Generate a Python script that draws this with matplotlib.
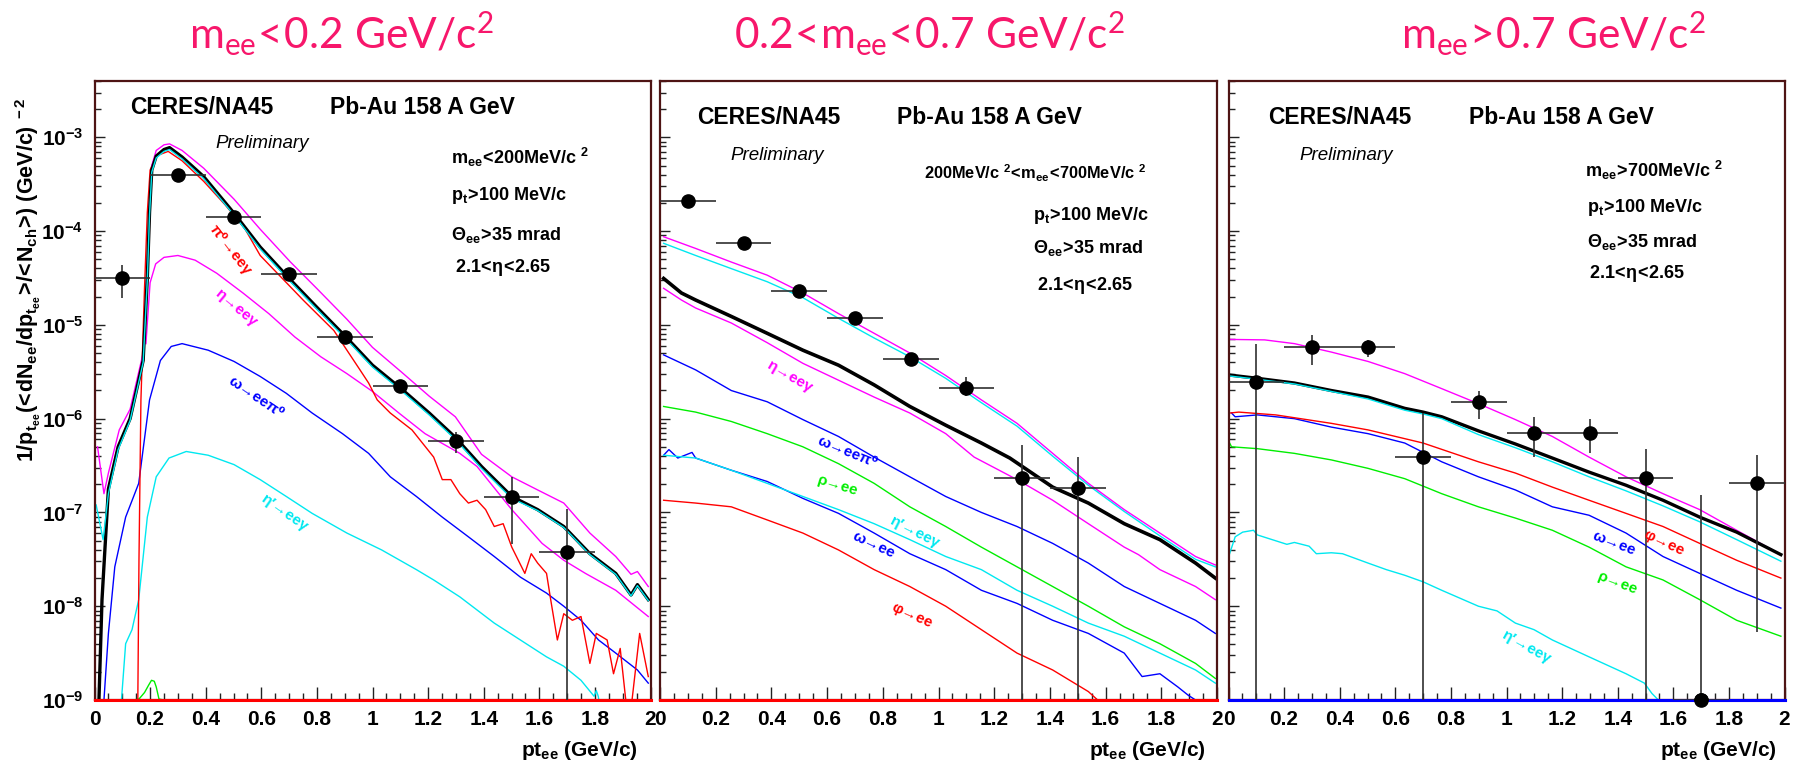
import numpy as np
import matplotlib
matplotlib.use('Agg')
import matplotlib.pyplot as plt
from matplotlib.ticker import FixedLocator, NullFormatter, LogLocator

W, H = 1798, 766
plt.rcParams['mathtext.fontset'] = 'custom'
plt.rcParams['mathtext.rm'] = 'Lato'
plt.rcParams['mathtext.bf'] = 'Liberation Sans:bold'
plt.rcParams['mathtext.it'] = 'Liberation Sans:italic'
plt.rcParams['font.family'] = ['Liberation Sans', 'DejaVu Sans']

# ---------------- data (log10 of the yield) ----------------
# Left panel  m_ee < 0.2 GeV/c^2
L_tot_x = [0.016, 0.027, 0.05, 0.085, 0.128, 0.175, 0.19, 0.198, 0.206, 0.222, 0.25, 0.27, 0.315, 0.393, 0.502, 0.596, 0.705, 0.799, 0.908, 1.0, 1.103, 1.204, 1.298, 1.392, 1.501, 1.594, 1.688, 1.782, 1.875, 1.93, 1.953, 1.992]
L_tot_y = [-9.0, -7.93, -6.75, -6.3, -6.0, -5.38, -4.5, -3.8, -3.35, -3.2, -3.13, -3.11, -3.21, -3.42, -3.81, -4.17, -4.52, -4.81, -5.14, -5.43, -5.68, -5.94, -6.2, -6.51, -6.83, -6.97, -7.15, -7.44, -7.65, -7.88, -7.77, -7.93]
L_cyt_x = [0.006, 0.031, 0.05, 0.085, 0.128, 0.175, 0.19, 0.198, 0.206, 0.222, 0.25, 0.27, 0.315, 0.393, 0.502, 0.596, 0.705, 0.799, 0.908, 1.0, 1.103, 1.204, 1.298, 1.392, 1.501, 1.594, 1.688, 1.782, 1.875, 1.93, 1.953, 1.992]
L_cyt_y = [-6.92, -7.29, -6.8, -6.33, -6.02, -5.40, -4.52, -3.82, -3.37, -3.22, -3.15, -3.13, -3.23, -3.44, -3.83, -4.19, -4.54, -4.83, -5.16, -5.45, -5.70, -5.96, -6.22, -6.53, -6.85, -6.98, -7.16, -7.45, -7.66, -7.89, -7.78, -7.94]
L_mup_x = [0.011, 0.034, 0.05, 0.089, 0.128, 0.175, 0.19, 0.198, 0.206, 0.222, 0.25, 0.27, 0.315, 0.393, 0.502, 0.596, 0.705, 0.799, 0.908, 1.0, 1.103, 1.204, 1.298, 1.392, 1.501, 1.594, 1.688, 1.782, 1.875, 1.93, 1.953, 1.992]
L_mup_y = [-6.30, -6.80, -6.58, -6.12, -5.90, -5.30, -4.35, -3.7, -3.3, -3.14, -3.08, -3.07, -3.14, -3.33, -3.66, -3.98, -4.33, -4.61, -4.94, -5.24, -5.50, -5.76, -5.98, -6.38, -6.62, -6.76, -6.90, -7.22, -7.47, -7.66, -7.63, -7.79]
L_pi0_x = [0.155, 0.16, 0.167, 0.18, 0.19, 0.2, 0.22, 0.265, 0.315, 0.393, 0.47, 0.54, 0.596, 0.752, 0.861, 0.908, 0.955, 0.986, 1.017, 1.064, 1.142, 1.22, 1.251, 1.282, 1.314, 1.345, 1.376, 1.407, 1.438, 1.47, 1.501, 1.548, 1.571, 1.594, 1.626, 1.641, 1.665, 1.688, 1.719, 1.75, 1.782, 1.805, 1.844, 1.867, 1.891, 1.922, 1.961, 1.992]
L_pi0_y = [-9.3, -7.5, -5.8, -4.6, -3.8, -3.35, -3.2, -3.15, -3.25, -3.47, -3.72, -3.97, -4.26, -4.74, -5.06, -5.27, -5.48, -5.62, -5.80, -5.94, -6.12, -6.41, -6.65, -6.65, -6.80, -6.90, -6.87, -6.97, -7.15, -7.12, -7.37, -7.65, -7.44, -7.54, -7.65, -7.93, -8.36, -8.08, -8.15, -8.11, -8.61, -8.29, -8.36, -8.72, -8.45, -9.3, -8.29, -8.75]
L_eta_x = [0.185, 0.2, 0.22, 0.25, 0.3, 0.362, 0.44, 0.534, 0.627, 0.721, 0.814, 0.908, 1.0, 1.095, 1.189, 1.314, 1.376, 1.501, 1.61, 1.688, 1.766, 1.875, 1.992]
L_eta_y = [-5.2, -4.55, -4.35, -4.28, -4.26, -4.31, -4.45, -4.66, -4.88, -5.13, -5.34, -5.52, -5.71, -5.94, -6.16, -6.37, -6.51, -6.97, -7.33, -7.51, -7.65, -7.83, -8.11]
L_omp_x = [0.034, 0.05, 0.073, 0.112, 0.159, 0.198, 0.237, 0.276, 0.315, 0.409, 0.502, 0.596, 0.690, 0.783, 0.892, 0.986, 1.064, 1.158, 1.251, 1.345, 1.438, 1.532, 1.626, 1.688, 1.75, 1.813, 1.875, 1.953, 1.992]
L_omp_y = [-9.0, -8.29, -7.58, -7.05, -6.69, -5.80, -5.38, -5.23, -5.20, -5.27, -5.39, -5.55, -5.73, -5.94, -6.16, -6.37, -6.62, -6.83, -7.05, -7.26, -7.47, -7.69, -7.86, -8.0, -8.15, -8.36, -8.5, -8.68, -8.82]
L_etp_x = [0.097, 0.112, 0.135, 0.159, 0.19, 0.222, 0.268, 0.33, 0.409, 0.502, 0.596, 0.69, 0.783, 0.908, 1.033, 1.158, 1.22, 1.314, 1.438, 1.532, 1.626, 1.688, 1.75, 1.797, 1.805, 1.812, 1.82]
L_etp_y = [-9.0, -8.40, -8.25, -7.93, -7.05, -6.62, -6.42, -6.35, -6.39, -6.49, -6.65, -6.83, -7.01, -7.22, -7.40, -7.61, -7.72, -7.90, -8.18, -8.36, -8.54, -8.64, -8.79, -8.96, -8.9, -8.96, -9.1]
L_rho_x = [0.14, 0.16, 0.18, 0.195, 0.205, 0.215, 0.222, 0.232, 0.25]
L_rho_y = [-9.0, -8.99, -8.92, -8.84, -8.79, -8.80, -8.86, -8.99, -9.0]

L_pt = [0.1, 0.3, 0.5, 0.7, 0.9, 1.1, 1.3, 1.5, 1.7]
L_val = [-4.504, -3.403, -3.847, -4.462, -5.127, -5.652, -6.235, -6.839, -7.419]
L_lo = [-4.71, -3.43, -3.88, -4.50, -5.17, -5.70, -6.37, -7.34, -10.0]
L_hi = [-4.36, -3.38, -3.81, -4.43, -5.09, -5.61, -6.14, -6.62, -6.967]

# Middle panel  0.2 < m_ee < 0.7 GeV/c^2
M_x17 = [0.013, 0.128, 0.256, 0.385, 0.513, 0.641, 0.769, 0.897, 1.026, 1.154, 1.282, 1.41, 1.538, 1.667, 1.795, 1.923, 1.994]
M_mup_y = [-4.06, -4.185, -4.33, -4.47, -4.66, -4.88, -5.09, -5.30, -5.54, -5.80, -6.05, -6.37, -6.69, -6.97, -7.22, -7.47, -7.56]
M_cup_y = [-4.13, -4.26, -4.40, -4.54, -4.71, -4.93, -5.14, -5.34, -5.57, -5.83, -6.08, -6.40, -6.71, -6.99, -7.25, -7.50, -7.58]
M_tot_x = [0.013, 0.077, 0.128, 0.256, 0.385, 0.513, 0.641, 0.769, 0.897, 1.026, 1.154, 1.256, 1.41, 1.538, 1.667, 1.795, 1.923, 1.994]
M_tot_y = [-4.505, -4.66, -4.735, -4.91, -5.09, -5.27, -5.43, -5.64, -5.87, -6.07, -6.26, -6.42, -6.73, -6.90, -7.12, -7.29, -7.54, -7.70]
M_eta_x = [0.013, 0.077, 0.128, 0.256, 0.385, 0.513, 0.641, 0.769, 0.897, 1.026, 1.128, 1.282, 1.41, 1.538, 1.667, 1.718, 1.795, 1.923, 1.994]
M_eta_y = [-4.61, -4.735, -4.82, -4.98, -5.19, -5.41, -5.59, -5.77, -5.94, -6.16, -6.41, -6.65, -6.87, -7.12, -7.37, -7.45, -7.61, -7.79, -7.93]
M_omp_y = [-5.32, -5.48, -5.70, -5.82, -6.01, -6.19, -6.41, -6.62, -6.83, -7.0, -7.15, -7.33, -7.54, -7.79, -7.97, -8.15, -8.29]
M_rho_y = [-5.87, -5.93, -6.03, -6.16, -6.30, -6.48, -6.69, -6.94, -7.15, -7.37, -7.58, -7.79, -8.0, -8.22, -8.40, -8.61, -8.77]
M_etp_y = [-6.39, -6.42, -6.55, -6.69, -6.83, -6.97, -7.12, -7.29, -7.47, -7.61, -7.83, -8.0, -8.18, -8.32, -8.50, -8.68, -8.82]
M_om_x = [0.013, 0.032, 0.064, 0.115, 0.128, 0.256, 0.385, 0.513, 0.641, 0.769, 0.897, 1.026, 1.154, 1.282, 1.41, 1.538, 1.667, 1.731, 1.795, 1.859, 1.897, 1.923, 1.95]
M_om_y = [-6.39, -6.33, -6.42, -6.36, -6.42, -6.55, -6.67, -6.85, -7.01, -7.22, -7.44, -7.61, -7.83, -7.97, -8.15, -8.29, -8.50, -8.75, -8.72, -8.86, -8.95, -9.0, -9.1]
M_phi_x = [0.013, 0.128, 0.256, 0.385, 0.513, 0.641, 0.769, 0.897, 1.026, 1.154, 1.282, 1.41, 1.538, 1.59]
M_phi_y = [-6.87, -6.90, -6.94, -7.08, -7.22, -7.40, -7.61, -7.79, -8.0, -8.25, -8.50, -8.68, -8.91, -9.05]

M_pt = [0.1, 0.3, 0.5, 0.7, 0.9, 1.1, 1.3, 1.5]
M_val = [-3.677, -4.132, -4.64, -4.924, -5.368, -5.677, -6.637, -6.743]
M_lo = [-3.70, -4.16, -4.69, -4.97, -5.44, -5.76, -10.0, -10.0]
M_hi = [-3.65, -4.11, -4.58, -4.88, -5.30, -5.56, -6.28, -6.41]

# Right panel  m_ee > 0.7 GeV/c^2
R_mup_x = [0.004, 0.13, 0.237, 0.37, 0.502, 0.634, 0.767, 0.899, 1.032, 1.165, 1.297, 1.43, 1.563, 1.695, 1.828, 1.987]
R_mup_y = [-5.155, -5.16, -5.20, -5.29, -5.39, -5.52, -5.68, -5.84, -6.01, -6.19, -6.41, -6.62, -6.80, -6.97, -7.19, -7.45]
R_tot_x = [0.004, 0.104, 0.237, 0.37, 0.502, 0.634, 0.70, 0.767, 0.899, 1.032, 1.165, 1.297, 1.43, 1.563, 1.695, 1.828, 1.987]
R_tot_y = [-5.535, -5.57, -5.62, -5.70, -5.77, -5.89, -5.93, -5.98, -6.13, -6.27, -6.42, -6.57, -6.71, -6.87, -7.05, -7.21, -7.45]
R_cyt_y = [-5.545, -5.58, -5.63, -5.71, -5.79, -5.91, -5.95, -6.00, -6.17, -6.31, -6.46, -6.62, -6.77, -6.93, -7.10, -7.29, -7.52]
R_phi_x = [0.004, 0.037, 0.17, 0.37, 0.502, 0.70, 0.899, 1.032, 1.165, 1.297, 1.43, 1.563, 1.695, 1.828, 1.987]
R_phi_y = [-5.94, -5.93, -5.96, -6.05, -6.12, -6.26, -6.46, -6.58, -6.73, -6.87, -7.01, -7.15, -7.33, -7.51, -7.70]
R_om_x = [0.011, 0.024, 0.104, 0.237, 0.37, 0.502, 0.634, 0.767, 0.899, 1.032, 1.165, 1.297, 1.43, 1.563, 1.695, 1.828, 1.987]
R_om_y = [-5.94, -5.98, -5.96, -6.0, -6.09, -6.16, -6.26, -6.46, -6.62, -6.76, -6.94, -7.03, -7.22, -7.47, -7.65, -7.83, -8.02]
R_rho_x = [0.004, 0.011, 0.104, 0.237, 0.37, 0.502, 0.634, 0.767, 0.899, 1.032, 1.165, 1.297, 1.43, 1.563, 1.695, 1.828, 1.987]
R_rho_y = [-6.26, -6.30, -6.32, -6.37, -6.44, -6.53, -6.64, -6.80, -6.94, -7.06, -7.19, -7.37, -7.58, -7.72, -7.93, -8.15, -8.32]
R_etp_x = [0.004, 0.024, 0.051, 0.09, 0.104, 0.157, 0.21, 0.237, 0.29, 0.316, 0.37, 0.41, 0.502, 0.568, 0.634, 0.70, 0.767, 0.899, 0.966, 1.032, 1.099, 1.165, 1.297, 1.43, 1.496, 1.523, 1.563]
R_etp_y = [-7.44, -7.26, -7.21, -7.19, -7.24, -7.29, -7.34, -7.32, -7.36, -7.44, -7.43, -7.44, -7.54, -7.61, -7.67, -7.74, -7.83, -8.0, -8.05, -8.18, -8.25, -8.36, -8.54, -8.72, -8.82, -8.93, -9.05]

R_pt = [0.1, 0.3, 0.5, 0.7, 0.9, 1.1, 1.3, 1.5, 1.7, 1.9]
R_val = [-5.606, -5.233, -5.24, -6.413, -5.827, -6.157, -6.15, -6.63, -9.0, -6.69]
R_lo = [-10.0, -5.43, -5.34, -10.0, -6.0, -6.41, -6.37, -10.0, -10.0, -8.27]
R_hi = [-5.20, -5.11, -5.16, -5.94, -5.70, -5.98, -6.0, -6.324, -6.81, -6.39]

PT_HALF_BIN = 0.1
LT, GT = r'\!<\!', r'\!>\!'
titles = [r'$\mathrm{m_{ee}' + LT + r'0.2\ GeV/c^{2}}$',
          r'$\mathrm{0.2' + LT + r'm_{ee}' + LT + r'0.7\ GeV/c^{2}}$',
          r'$\mathrm{m_{ee}' + GT + r'0.7\ GeV/c^{2}}$']
mass_cuts = [r'$\mathbf{m_{ee}' + LT + r'200MeV/c\ {}^{2}}$',
             r'$\mathbf{200MeV/c\ {}^{2}' + LT + r'm_{ee}' + LT + r'700MeV/c\ {}^{2}}$',
             r'$\mathbf{m_{ee}' + GT + r'700MeV/c\ {}^{2}}$']
pt_cut = r'$\mathbf{p_{t}' + GT + r'100\ MeV/c}$'
theta_cut = r'$\mathbf{Θ_{ee}' + GT + r'35\ mrad}$'
eta_cut = r'$\mathbf{2.1' + LT + r'η' + LT + r'2.65}$'
xtick_vals = [0, 0.2, 0.4, 0.6, 0.8, 1.0, 1.2, 1.4, 1.6, 1.8, 2.0]
xtick_labels = ['0', '0.2', '0.4', '0.6', '0.8', '1', '1.2', '1.4', '1.6', '1.8', '2']
ytick_exps = [-9, -8, -7, -6, -5, -4, -3]

# ---------------- colours / style ----------------
RED, MAG, BLU, CYA, GRN, BLK = '#ff0000', '#ff00ff', '#0000ff', '#00e8f0', '#00ee00', '#000000'
PINK = '#f7176b'
FRAME = '#4e1414'

def L(a):
    return 10.0 ** np.asarray(a, dtype=float)

fig = plt.figure(figsize=(W / 100, H / 100), dpi=100)
def fx(px): return px / W
def fy(py): return 1 - py / H

TOP, BOT = 80.7, 700.0
YMAX = 10 ** (-9 + (BOT - TOP) / 93.78)
panels_px = [(94.5, 650.5), (660.0, 1217.0), (1228.5, 1784.5)]
axes = []
for (x0, x1) in panels_px:
    ax = fig.add_axes([fx(x0), fy(BOT), (x1 - x0) / W, (BOT - TOP) / H])
    ax.set_yscale('log')
    ax.set_xlim(0, 2)
    ax.set_ylim(1e-9, YMAX)
    for s in ax.spines.values():
        s.set_color(FRAME)
        s.set_linewidth(1.6)
    ax.xaxis.set_major_locator(FixedLocator(xtick_vals))
    ax.xaxis.set_minor_locator(FixedLocator(np.arange(0, 2.001, 0.05)))
    ax.set_xticklabels(xtick_labels, fontsize=15, fontweight='bold')
    ax.yaxis.set_major_locator(FixedLocator([10.0 ** e for e in ytick_exps]))
    ax.yaxis.set_minor_locator(LogLocator(base=10, subs=np.arange(2, 10), numticks=100))
    ax.yaxis.set_minor_formatter(NullFormatter())
    ax.tick_params(axis='x', which='major', direction='in', length=9.5, width=1.0, color='#222222', pad=7, top=False)
    ax.tick_params(axis='x', which='minor', direction='in', length=5, width=1.0, color='#222222', top=False)
    ax.tick_params(axis='y', which='major', direction='in', length=7.5, width=1.0, color='#222222', pad=8, right=False)
    ax.tick_params(axis='y', which='minor', direction='in', length=4, width=1.0, color='#222222', right=False)
    axes.append(ax)

axL, axM, axR = axes
axL.set_yticklabels([r'$\mathbf{10^{%d}}$' % e for e in ytick_exps], fontsize=15)
axM.set_yticklabels([])
axR.set_yticklabels([])

thin = 1.0
# left curves
axL.plot(L_rho_x, L(L_rho_y), color=GRN, lw=thin)
axL.plot(L_etp_x, L(L_etp_y), color=CYA, lw=thin)
axL.plot(L_omp_x, L(L_omp_y), color=BLU, lw=thin)
axL.plot(L_eta_x, L(L_eta_y), color=MAG, lw=thin)
axL.plot(L_pi0_x, L(L_pi0_y), color=RED, lw=thin)
axL.plot(L_mup_x, L(L_mup_y), color=MAG, lw=thin)
axL.plot(L_tot_x, L(L_tot_y), color=BLK, lw=2.4)
axL.plot(L_cyt_x, L(L_cyt_y), color=CYA, lw=thin)
# middle curves
axM.plot(M_phi_x, L(M_phi_y), color=RED, lw=thin)
axM.plot(M_om_x, L(M_om_y), color=BLU, lw=thin)
axM.plot(M_x17, L(M_etp_y), color=CYA, lw=thin)
axM.plot(M_x17, L(M_rho_y), color=GRN, lw=thin)
axM.plot(M_x17, L(M_omp_y), color=BLU, lw=thin)
axM.plot(M_eta_x, L(M_eta_y), color=MAG, lw=thin)
axM.plot(M_tot_x, L(M_tot_y), color=BLK, lw=2.6)
axM.plot(M_x17, L(M_cup_y), color=CYA, lw=thin)
axM.plot(M_x17, L(M_mup_y), color=MAG, lw=thin)
# right curves
axR.plot(R_etp_x, L(R_etp_y), color=CYA, lw=thin)
axR.plot(R_rho_x, L(R_rho_y), color=GRN, lw=thin)
axR.plot(R_om_x, L(R_om_y), color=BLU, lw=thin)
axR.plot(R_phi_x, L(R_phi_y), color=RED, lw=thin)
axR.plot(R_mup_x, L(R_mup_y), color=MAG, lw=thin)
axR.plot(R_tot_x, L(R_tot_y), color=BLK, lw=2.4)
axR.plot(R_tot_x, L(R_cyt_y), color=CYA, lw=thin)

# zero-content histograms sitting on the bottom edge
for ax, cols in ((axL, [RED]), (axM, [RED]), (axR, [RED, BLU])):
    for c in cols:
        ax.axhline(1e-9, color=c, lw=2.2, clip_on=False, zorder=3)

# data points
for ax, px, v, lo, hi in ((axL, L_pt, L_val, L_lo, L_hi), (axM, M_pt, M_val, M_lo, M_hi), (axR, R_pt, R_val, R_lo, R_hi)):
    yv = L(v)
    yerr = [yv - L(lo), L(hi) - yv]
    ax.errorbar(px, yv, xerr=PT_HALF_BIN, yerr=yerr, fmt='o', ms=9.5, color='black',
                ecolor='#303030', elinewidth=1.2, capsize=0, zorder=5)
axR.plot([R_pt[8]], [L(R_val[8])], 'o', ms=9.5, color='black', clip_on=False, zorder=6)

# ---------------- texts ----------------
BF = ['Liberation Sans', 'DejaVu Sans']
for cx, t in zip([341, 929, 1553], titles):
    fig.text(fx(cx), fy(34), t, ha='center', va='center', fontsize=30.5, color=PINK)

hdr = [(130, 330, 108, 215, 143), (697, 897, 118, 730, 155), (1268, 1469, 117, 1299, 155)]
for (cx, px_, yy, prx, pry) in hdr:
    fig.text(fx(cx), fy(yy), 'CERES/NA45', ha='left', va='center', fontsize=16.5, fontweight='bold', family=BF)
    fig.text(fx(px_), fy(yy), 'Pb-Au 158 A GeV', ha='left', va='center', fontsize=16.5, fontweight='bold', family=BF)
    fig.text(fx(prx), fy(pry), 'Preliminary', ha='left', va='center', fontsize=13.5, style='italic', family=BF)

cond_mx = [451, 924, 1585]
cond_ms = [13, 11.8, 13]
cond_x2 = [451, 1033, 1587]
cond_ex = [455, 1037, 1589]
cond_ys = [[157, 195, 235, 268], [173, 215, 248, 285], [170, 207, 242, 273]]
for i in range(3):
    ys = cond_ys[i]
    fig.text(fx(cond_mx[i]), fy(ys[0]), mass_cuts[i], ha='left', va='center', fontsize=cond_ms[i])
    fig.text(fx(cond_x2[i]), fy(ys[1]), pt_cut, ha='left', va='center', fontsize=13)
    fig.text(fx(cond_x2[i]), fy(ys[2]), theta_cut, ha='left', va='center', fontsize=13)
    fig.text(fx(cond_ex[i]), fy(ys[3]), eta_cut, ha='left', va='center', fontsize=13)

for xr in (637.5, 1206, 1777):
    fig.text(fx(xr), fy(751), r'$\mathbf{pt_{ee}\ (GeV/c)}$', ha='right', va='center', fontsize=15)
ylab = (r'$\mathbf{1/p_{t_{ee}}(' + LT + r'dN_{ee}/dp_{t_{ee}}' + GT + r'/' + LT + r'N_{ch}' + GT +
        r')\ (GeV/c)^{\ -2}}$')
fig.text(fx(28), fy(280), ylab, ha='center', va='center', rotation=90, fontsize=15.5)

labels = [
    (230, 250, 'π⁰→eeγ', RED, -52), (236, 308, 'η→eeγ', MAG, -40), (256, 397, 'ω→eeπ⁰', BLU, -34), (284, 513, 'η′→eeγ', CYA, -35),
    (789, 377, 'η→eeγ', MAG, -30), (847, 452, 'ω→eeπ⁰', BLU, -22), (837, 485, 'ρ→ee', GRN, -17), (914, 532, 'η′→eeγ', CYA, -27),
    (874, 545, 'ω→ee', BLU, -25), (912, 615, 'φ→ee', RED, -24),
    (1614, 543, 'ω→ee', BLU, -21), (1664, 543, 'φ→ee', RED, -25), (1617, 583, 'ρ→ee', GRN, -21), (1526, 647, 'η′→eeγ', CYA, -29),
]
for (x, y, t, c, r) in labels:
    fig.text(fx(x), fy(y), t, ha='center', va='center', rotation=r, rotation_mode='anchor',
             fontsize=11, fontweight='bold', color=c, family=BF)

fig.savefig('out.png', dpi=100)
